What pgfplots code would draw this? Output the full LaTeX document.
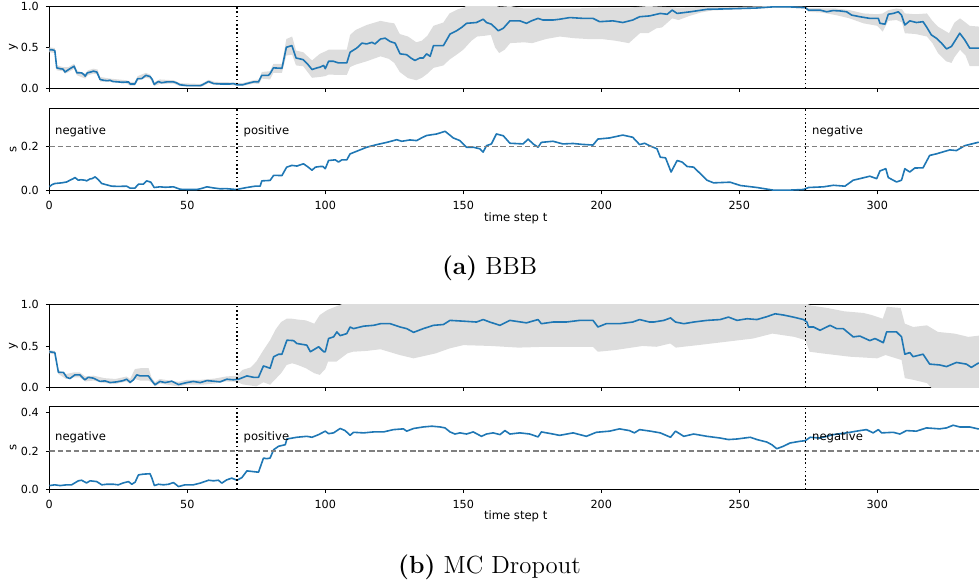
\documentclass[border=0pt]{standalone}
\usepackage{fontspec}
\usepackage{pgfplots}
\pgfplotsset{compat=1.18}
\newfontfamily\dejavu{DejaVu Sans}
\definecolor{mplblue}{HTML}{1F77B4}
\definecolor{band}{HTML}{DDDDDD}
\definecolor{refgrey}{HTML}{808080}

\newcommand{\figfont}{\dejavu\fontsize{5.6}{6.7}\selectfont}
\newcommand{\tagfont}{\dejavu\fontsize{5.8}{7}\selectfont}

\pgfplotsset{
  panel/.style={
    scale only axis, width=466.4pt, height=41.25pt,
    xmin=0, xmax=338, xtick={0,50,...,300},
    tick pos=left, tick align=outside,
    major tick length=1.75pt,
    axis line style={line width=0.45pt},
    tick style={line width=0.45pt, black},
    tick label style={font=\figfont},
    /pgf/number format/assume math mode=true,
    yticklabel style={/pgf/number format/.cd, fixed, fixed zerofill, precision=1},
    label style={font=\tagfont},
    ylabel style={at={(axis description cs:-0.0386,0.5)}, anchor=center},
    xlabel style={at={(axis description cs:0.5,-0.33)}, anchor=center},
  },
}
\tikzset{
  meanline/.style={mplblue, line width=0.8pt, line join=round},
  vline/.style={black, line width=0.8pt, dash pattern=on 0.8pt off 1.3pt},
  hline/.style={refgrey, line width=0.75pt, dash pattern=on 2.7pt off 1.4pt},
  tag/.style={font=\tagfont, anchor=west, inner sep=0pt},
}

\pgfplotstableread{
x y
0 0.47
1 0.47
2 0.46
2.7 0.25
4 0.24
5 0.235
5.7 0.20
7 0.23
8 0.25
9 0.27
10 0.19
11.7 0.19
12.5 0.17
13 0.15
13.8 0.19
15 0.20
16 0.21
17.2 0.20
18.4 0.11
19.6 0.10
21 0.095
22 0.10
23 0.085
25 0.08
26.5 0.075
28.7 0.08
29.3 0.055
31 0.055
32 0.12
33.5 0.12
35 0.16
36.5 0.145
37.3 0.11
38 0.05
39.5 0.085
40.7 0.07
42.5 0.08
45 0.08
46 0.07
47.4 0.045
50 0.035
54.7 0.035
55.5 0.045
57.7 0.085
59.5 0.06
62 0.055
65.5 0.055
66.7 0.06
68 0.045
70 0.045
71.6 0.06
74 0.08
75.8 0.08
77 0.16
79.4 0.16
80 0.18
81.2 0.25
84.3 0.245
85.9 0.50
87.9 0.52
89.4 0.37
92 0.35
93.5 0.30
95.2 0.23
97 0.25
98.2 0.26
99.4 0.28
100 0.24
101.2 0.33
103 0.33
104.8 0.31
107.8 0.31
109 0.44
111.4 0.49
113.3 0.55
115 0.54
116.9 0.56
118 0.54
120 0.60
121.7 0.61
123.5 0.57
125.3 0.55
127.1 0.42
129.5 0.41
131 0.37
132.5 0.34
134.3 0.37
135.5 0.37
136.7 0.42
138 0.39
139.2 0.52
142.8 0.52
145.2 0.66
147.6 0.70
149.4 0.74
151.2 0.79
154.8 0.80
157.2 0.84
158.4 0.80
160.2 0.78
162.7 0.70
164.5 0.73
166.9 0.82
170.5 0.82
172.9 0.79
174.7 0.82
177.1 0.85
178.9 0.83
182.5 0.83
185 0.84
188.6 0.86
193.4 0.85
197 0.85
199.4 0.81
204.2 0.82
207.8 0.80
211.4 0.83
213.9 0.87
217.5 0.88
221.4 0.91
223.9 0.90
225.7 0.95
227.5 0.91
232.3 0.93
238.3 0.96
245 0.965
250.4 0.97
256 0.975
262.4 0.99
268 0.99
273.9 0.98
275.1 0.95
279.3 0.95
281.7 0.93
284 0.945
286.5 0.94
288.9 0.93
290.7 0.89
293.7 0.87
297.3 0.85
300.4 0.85
301 0.79
302.8 0.78
304 0.90
305.8 0.91
307.6 0.93
308.8 0.89
310 0.77
311.8 0.82
314.2 0.80
316.6 0.81
317.8 0.75
319.6 0.65
321.4 0.61
323.3 0.55
325.1 0.48
326.9 0.51
329.9 0.67
331.7 0.59
333.5 0.49
338 0.49
}\bbby

\pgfplotstableread{
x y
0 0.018
1 0.028
2 0.033
4.5 0.036
6.3 0.040
7.5 0.048
8.7 0.055
9.3 0.060
10.5 0.048
11.5 0.050
12.9 0.048
13.5 0.045
14.8 0.054
15.5 0.055
16.6 0.063
17.8 0.050
19 0.033
20.8 0.027
22.6 0.021
25 0.020
28 0.021
29.3 0.012
31 0.012
32.3 0.030
34.1 0.030
35.3 0.045
36.8 0.039
38 0.015
40.1 0.018
42 0.016
45 0.018
47.4 0.007
50 0.006
53.4 0.006
55 0.010
57.1 0.018
59.5 0.013
62 0.009
64 0.010
66.7 0.007
67.9 0.006
69.5 0.010
71.6 0.015
74.6 0.021
76.4 0.021
77 0.045
80 0.047
81.3 0.070
84.3 0.069
86 0.107
87.9 0.115
89.7 0.112
92.1 0.122
93.5 0.110
95.2 0.093
96.4 0.107
98.2 0.110
99.2 0.110
100 0.100
101.2 0.137
103.6 0.140
104.8 0.130
106 0.140
107.8 0.140
109 0.167
111.4 0.179
113 0.187
115 0.197
118.7 0.209
122.3 0.219
125.9 0.231
127.7 0.224
130.7 0.230
133.1 0.227
135 0.240
136.7 0.250
140.4 0.257
143.4 0.269
144.6 0.257
146.4 0.239
148.8 0.227
151.2 0.197
153.6 0.197
156 0.190
157.2 0.175
158.4 0.204
160.2 0.212
162 0.257
164.5 0.249
166.9 0.215
171.7 0.212
173.5 0.234
175.3 0.212
177.1 0.197
178.3 0.219
182.5 0.224
186.1 0.212
189.8 0.214
193 0.210
197 0.207
198.8 0.234
203 0.239
207.8 0.252
211.4 0.242
213.9 0.209
215.7 0.215
217.5 0.204
220.2 0.190
221.4 0.152
223.3 0.149
225.3 0.085
227.5 0.137
229.3 0.130
231.1 0.110
233.5 0.107
236.5 0.070
238.3 0.048
240.7 0.036
246.7 0.039
250.4 0.024
256.4 0.015
262.4 0.003
268 0.003
273.3 0.006
275.1 0.015
280.5 0.018
284.1 0.025
288.3 0.021
291.3 0.048
293.7 0.055
297.3 0.066
299.8 0.055
301 0.090
303.1 0.100
304 0.060
307 0.040
308.8 0.048
310 0.100
311.8 0.085
313.6 0.103
316.6 0.104
319 0.160
321.4 0.167
326.3 0.185
328.7 0.182
331.7 0.204
336.5 0.219
338 0.220
}\bbbs

\pgfplotstableread{
x y
0 0.43
2 0.42
3.3 0.18
5.1 0.18
6.3 0.12
7.5 0.105
9.3 0.15
11.1 0.15
12.9 0.09
14.1 0.12
16 0.11
18.4 0.07
20.2 0.077
22 0.056
24.4 0.065
26.8 0.08
28 0.097
29.3 0.06
30.5 0.09
31.7 0.15
32.9 0.137
35.9 0.137
37.1 0.08
38.3 0.03
40.1 0.07
42 0.056
44.4 0.073
46.8 0.032
49.8 0.056
52.2 0.07
54.7 0.056
57.1 0.08
59.5 0.073
61.9 0.065
64.3 0.097
66.7 0.09
68.6 0.097
71.6 0.137
74 0.12
75.8 0.12
77.6 0.258
80 0.23
81.3 0.37
83.1 0.40
84.3 0.40
86.1 0.57
88.5 0.565
89.7 0.53
93.3 0.51
94.6 0.43
97.6 0.49
99.4 0.43
100 0.43
101.2 0.59
103 0.61
104.2 0.67
105.4 0.625
107.8 0.65
109 0.73
110.2 0.71
113.9 0.74
117.5 0.75
120 0.77
123.5 0.77
127.1 0.73
129.5 0.71
132 0.665
135.5 0.71
139.2 0.75
142.8 0.76
145.2 0.81
150.3 0.80
154.8 0.79
157.2 0.82
159.6 0.79
163.3 0.75
166.9 0.81
172.9 0.78
177.1 0.82
178.3 0.77
182.5 0.79
187.3 0.79
192.2 0.81
197 0.81
198.8 0.73
201.8 0.77
206.6 0.77
211.4 0.79
213.9 0.82
217.5 0.79
219 0.79
222.7 0.81
225.1 0.84
226.9 0.79
229.9 0.77
233.5 0.79
238.3 0.81
243.1 0.82
246.1 0.85
249.2 0.81
252.8 0.83
256.4 0.82
260 0.855
263 0.89
266 0.875
269.6 0.85
273.3 0.82
274.5 0.79
275.1 0.73
276.9 0.73
279.3 0.69
282.9 0.75
285.3 0.71
287.7 0.71
291.3 0.61
293.7 0.62
297.3 0.565
299.2 0.59
300.4 0.57
302.2 0.54
303.4 0.67
307 0.67
308.8 0.61
310 0.40
311.8 0.42
313 0.37
316.6 0.40
319 0.28
322.6 0.27
325.1 0.25
328.7 0.30
332.3 0.28
334.1 0.24
336.5 0.29
338 0.29
}\mcy

\pgfplotstableread{
x y
0 0.019
2 0.023
3.9 0.019
6.3 0.023
8.1 0.023
10.5 0.044
11.7 0.047
13.5 0.033
14.8 0.044
17.2 0.040
19 0.023
20.8 0.026
23.2 0.026
25 0.023
26.8 0.033
28.7 0.040
29.9 0.026
31.1 0.037
32.3 0.075
34.1 0.079
36.5 0.081
37.1 0.061
38.1 0.019
39.5 0.026
41.4 0.023
43.2 0.026
45 0.035
46.8 0.014
49.2 0.023
52.2 0.023
54.7 0.032
57.7 0.047
59.5 0.044
61.3 0.047
62.5 0.032
64.3 0.049
66.1 0.058
68 0.047
69.8 0.061
71.6 0.096
73.4 0.093
75.8 0.089
77.6 0.163
78.8 0.160
80 0.163
81.3 0.207
83.1 0.225
85.5 0.233
86.1 0.263
89.7 0.272
93.3 0.277
95.2 0.272
97.6 0.286
100 0.304
101.2 0.291
103 0.295
105.4 0.318
107.2 0.307
109 0.282
110.2 0.298
113.9 0.295
117.5 0.300
121.1 0.300
124.7 0.312
128.3 0.316
129.5 0.304
132 0.318
135.5 0.326
138.6 0.330
141.6 0.326
143.4 0.321
145.2 0.300
147 0.289
148.8 0.295
151.2 0.289
153.6 0.300
156.6 0.277
158.4 0.289
160.8 0.295
163.3 0.286
165.1 0.307
166.9 0.289
170.5 0.295
174.1 0.289
177.1 0.274
178.3 0.300
182.5 0.289
184.9 0.282
189.8 0.295
194.6 0.277
198.2 0.298
203 0.304
206.6 0.316
210.2 0.307
212 0.295
213.9 0.312
217.8 0.304
221.4 0.295
225.1 0.272
226.9 0.304
229.9 0.277
233.5 0.289
238.3 0.277
243.1 0.268
246.1 0.260
249.2 0.263
254 0.272
256.4 0.260
260 0.247
261.8 0.233
263.6 0.212
266 0.225
268.4 0.242
272 0.251
273.9 0.254
275.7 0.272
279.3 0.268
284.1 0.286
288.9 0.295
293.7 0.307
296.1 0.312
298.5 0.295
300.4 0.312
301.6 0.295
305.8 0.298
308.2 0.289
310.6 0.307
314.2 0.304
317.8 0.321
322.6 0.316
325.1 0.321
327.5 0.335
329.9 0.326
333.5 0.326
336.5 0.316
338 0.316
}\mcs

\begin{document}
\begin{tikzpicture}
\path[use as bounding box] (0,0) rectangle (489.5pt,-292.5pt);

% (a) BBB, y
\begin{axis}[panel, at={(24.65pt,-3pt)}, anchor=north west,
  ymin=0, ymax=1, ytick={0,0.5,1}, xticklabels={}, ylabel={y}]
\addplot[fill=band, draw=none] coordinates {
(0,0.50)(2,0.49)(2.7,0.28)(5,0.26)(7,0.26)(9,0.30)(10,0.22)(13,0.18)(14,0.22)(16,0.24)(17.5,0.23)(18.4,0.14)(22,0.12)(28,0.10)(29.3,0.08)(31,0.08)(32,0.15)(35,0.19)(36.5,0.17)(38,0.075)(40,0.11)(45,0.10)(47.4,0.065)(55,0.055)(57.7,0.105)(60,0.08)(66,0.075)(70,0.065)(74,0.10)(76,0.11)(77,0.20)(80,0.21)(81.2,0.30)(84.3,0.30)(85.9,0.60)(88,0.63)(89.4,0.46)(92,0.44)(95.2,0.34)(98,0.42)(100,0.45)(101.2,0.47)(104,0.47)(107.8,0.47)(109,0.65)(111,0.71)(115,0.77)(120,0.82)(123,0.80)(125,0.79)(127,0.66)(130,0.63)(133,0.56)(135,0.58)(137,0.64)(139.2,0.76)(142.8,0.80)(145,0.91)(148,0.96)(150,0.98)(152,1.02)(160,1.02)(163,0.99)(167,1.0)(172,0.97)(190,0.97)(200,0.98)(210,0.98)(217,1.0)(228,0.98)(240,0.99)(250,0.99)(262,1.0)(274,0.99)(275,0.975)(285,0.97)(290,0.95)(295,0.91)(300,0.90)(302,0.91)(304,0.95)(307,0.97)(309,0.96)(310,0.91)(314,0.90)(318,0.91)(320,0.82)(322,0.75)(325,0.69)(326,0.67)(328,0.80)(330,0.85)(332,0.80)(333.5,0.76)(337,0.75)(338,0.75)
(338,0.27)(337,0.27)(333.5,0.27)(332,0.40)(330,0.47)(328,0.38)(326.9,0.31)(325,0.33)(322,0.43)(320,0.55)(318,0.63)(314,0.66)(310,0.67)(309,0.80)(307,0.83)(304,0.82)(302,0.69)(300,0.76)(295,0.79)(290,0.85)(285,0.89)(280,0.92)(275,0.93)(274,0.97)(262,0.98)(250,0.96)(240,0.945)(236,0.92)(232,0.88)(228,0.83)(225.7,0.85)(222,0.74)(220,0.73)(217,0.67)(214,0.67)(210,0.55)(205,0.58)(200,0.60)(195,0.60)(190,0.61)(185,0.63)(180,0.60)(175,0.55)(172,0.56)(167,0.55)(165,0.47)(163,0.43)(161.5,0.50)(160,0.65)(158,0.64)(155,0.63)(153,0.58)(150,0.47)(148,0.42)(145,0.35)(142.8,0.28)(139.2,0.25)(137,0.18)(135,0.13)(133,0.10)(130,0.125)(127,0.20)(125,0.31)(123,0.36)(120,0.39)(115,0.33)(111,0.29)(109,0.26)(107.8,0.165)(104,0.165)(101.2,0.17)(100,0.15)(98,0.14)(95.2,0.13)(92,0.27)(89.4,0.28)(88,0.41)(85.9,0.40)(84.3,0.19)(81.2,0.19)(80,0.11)(77,0.12)(76,0.055)(74,0.06)(70,0.03)(66,0.04)(60,0.045)(57.7,0.065)(55,0.02)(47.4,0.028)(45,0.06)(40,0.055)(38,0.03)(36.5,0.12)(35,0.13)(32,0.095)(31,0.035)(29.3,0.035)(28,0.06)(22,0.08)(18.4,0.085)(17.5,0.17)(16,0.18)(14,0.16)(13,0.12)(10,0.16)(9,0.24)(7,0.20)(5.7,0.18)(5,0.21)(2.7,0.22)(2,0.43)(0,0.44)
} -- cycle;
\addplot[meanline] table {\bbby};
\addplot[vline] coordinates {(68,0) (68,1)};
\addplot[vline] coordinates {(274,0) (274,1)};
\end{axis}

% (a) BBB, s
\begin{axis}[panel, at={(24.65pt,-54.15pt)}, anchor=north west,
  ymin=0, ymax=0.373, ytick={0,0.2}, ylabel={s}, xlabel={time step t}]
\addplot[meanline] table {\bbbs};
\addplot[hline] coordinates {(0,0.2) (338,0.2)};
\addplot[vline] coordinates {(68,0) (68,0.373)};
\addplot[vline] coordinates {(274,0) (274,0.373)};
\node[tag] at (axis cs:2,0.267) {negative};
\node[tag] at (axis cs:70.3,0.267) {positive};
\node[tag] at (axis cs:276.3,0.267) {negative};
\end{axis}

\node[font=\fontsize{12.4}{15}\selectfont] at (244.75pt,-134pt) {\textbf{(a)} BBB};

% (b) MC Dropout, y
\begin{axis}[panel, at={(24.65pt,-152.35pt)}, anchor=north west,
  ymin=0, ymax=1, ytick={0,0.5,1}, xticklabels={}, ylabel={y}]
\addplot[fill=band, draw=none] coordinates {
(0,0.45)(2,0.44)(3.3,0.21)(6,0.16)(9,0.18)(11,0.18)(13,0.13)(16,0.14)(20,0.11)(24,0.10)(28,0.13)(29.3,0.10)(31,0.22)(33,0.23)(36,0.23)(37,0.12)(38.3,0.06)(40,0.10)(46.8,0.065)(50,0.09)(55,0.09)(60,0.105)(64,0.13)(68,0.14)(70,0.21)(73,0.24)(75,0.31)(77.6,0.45)(80,0.57)(82,0.70)(84,0.79)(86,0.83)(88,0.83)(90,0.82)(93,0.81)(96,0.77)(98,0.875)(100,0.92)(101,0.94)(104,0.98)(107,1.02)(274,1.02)(276,0.99)(278,0.98)(282,0.96)(288,0.92)(295,0.90)(298,0.875)(302,0.83)(303.5,0.975)(308.5,0.96)(310,0.77)(313,0.73)(318,0.75)(322,0.67)(328,0.65)(333,0.61)(338,0.63)
(338,-0.05)(325,-0.05)(320,-0.02)(318,0.05)(313,0.09)(310,0.11)(308.8,0.33)(303,0.39)(300,0.35)(290,0.37)(280,0.41)(275.5,0.43)(274,0.57)(270,0.61)(262,0.65)(255,0.59)(245,0.55)(235,0.51)(227,0.48)(225,0.53)(220,0.49)(215,0.50)(205,0.45)(198.8,0.43)(197,0.49)(180,0.49)(170,0.48)(160,0.50)(150,0.51)(145,0.47)(140,0.41)(132,0.35)(127,0.39)(120,0.46)(115,0.44)(110,0.43)(108,0.41)(104,0.31)(101,0.31)(100,0.22)(98,0.15)(96,0.17)(93,0.23)(90,0.27)(88,0.29)(86,0.27)(84,0.17)(82,0.10)(80,0.03)(77.6,0.06)(75,0.01)(73,0.02)(70,0.035)(68,0.065)(64,0.07)(60,0.045)(55,0.03)(50,0.03)(46.8,0.01)(40,0.045)(38.3,0.01)(37,0.06)(36,0.08)(33,0.08)(31,0.10)(29.3,0.04)(28,0.07)(24,0.04)(20,0.05)(16,0.08)(13,0.07)(11,0.12)(9,0.12)(6,0.10)(3.3,0.16)(2,0.40)(0,0.41)
} -- cycle;
\addplot[meanline] table {\mcy};
\addplot[vline] coordinates {(68,0) (68,1)};
\addplot[vline] coordinates {(274,0) (274,1)};
\end{axis}

% (b) MC Dropout, s
\begin{axis}[panel, at={(24.65pt,-203.35pt)}, anchor=north west,
  ymin=0, ymax=0.432, ytick={0,0.2,0.4}, ylabel={s}, xlabel={time step t}]
\addplot[meanline] table {\mcs};
\addplot[hline] coordinates {(0,0.2) (338,0.2)};
\addplot[vline] coordinates {(68,0) (68,0.432)};
\addplot[vline] coordinates {(274,0) (274,0.432)};
\node[tag] at (axis cs:2,0.272) {negative};
\node[tag] at (axis cs:70.3,0.272) {positive};
\node[tag] at (axis cs:276.3,0.272) {negative};
\end{axis}

\node[font=\fontsize{12.4}{15}\selectfont] at (244.75pt,-283.5pt) {\textbf{(b)} MC Dropout};
\end{tikzpicture}
\end{document}
